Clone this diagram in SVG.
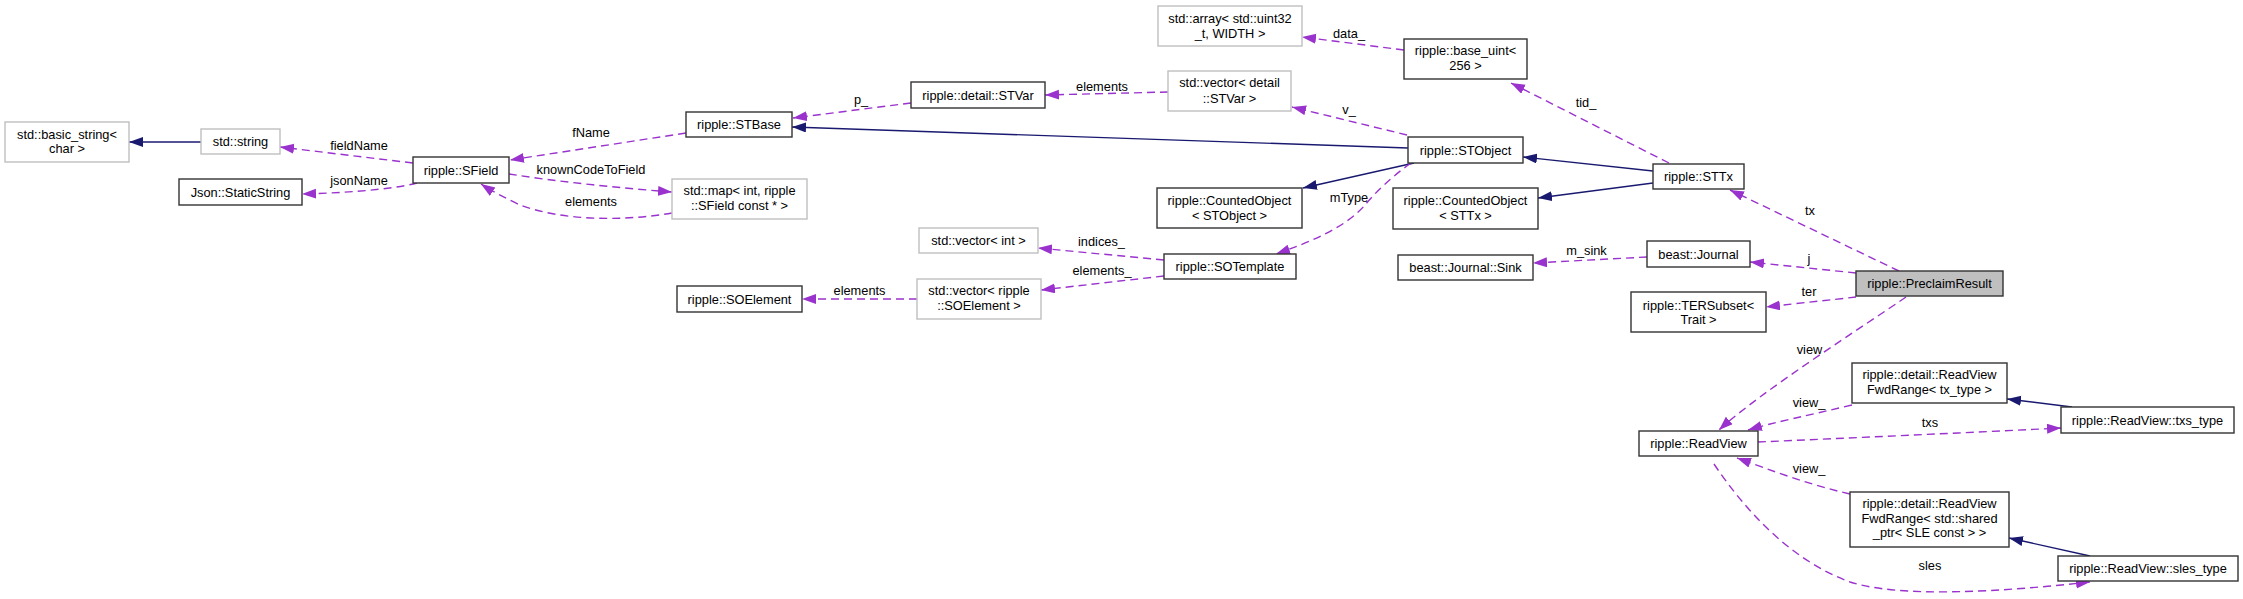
<svg xmlns="http://www.w3.org/2000/svg" width="2243" height="599" viewBox="0 0 2243 599">
<style>
.n rect{fill:#fff;stroke:#333;stroke-width:1.4}
.n.g rect{stroke:#bfbfbf}
.n.h rect{fill:#bfbfbf}
text{font-family:"Liberation Sans",Arial,sans-serif;font-size:12.8px;fill:#000;text-anchor:middle}
.u{fill:none;stroke:#9a32cd;stroke-width:1.4;stroke-dasharray:8,5;marker-end:url(#ap)}
.i{fill:none;stroke:#191970;stroke-width:1.4;marker-end:url(#an)}
</style>
<defs>
<marker id="ap" markerUnits="userSpaceOnUse" markerWidth="15" markerHeight="11" refX="14" refY="5" orient="auto"><path d="M0,0 L14,5 L0,10 z" fill="#9a32cd"/></marker>
<marker id="an" markerUnits="userSpaceOnUse" markerWidth="15" markerHeight="11" refX="14" refY="5" orient="auto"><path d="M0,0 L14,5 L0,10 z" fill="#191970"/></marker>
</defs>
<rect width="2243" height="599" fill="#fff"/>
<g id="connectors">
<path class="i" d="M201,142 L129,142"/>
<path class="i" d="M1408,148 L792,127"/>
<path class="i" d="M1414,163 L1303,188"/>
<path class="i" d="M1653,171 L1523,157"/>
<path class="i" d="M1653,183 L1538,198"/>
<path class="i" d="M2072,407 L2007,399"/>
<path class="i" d="M2090,556 L2009,538"/>
<path class="u" d="M413,163 L280,147"/>
<path class="u" d="M417,183 C390,190 340,193 302,194"/>
<path class="u" d="M509,174 C560,182 620,188 672,192"/>
<path class="u" d="M672,213 C620,222 560,220 520,205 C505,198 490,190 481,184"/>
<path class="u" d="M686,133 L510,160"/>
<path class="u" d="M911,103 L793,118"/>
<path class="u" d="M1168,92 L1045,95"/>
<path class="u" d="M1407,135 L1292,107"/>
<path class="u" d="M1404,50 L1302,37"/>
<path class="u" d="M1669,163 L1511,83"/>
<path class="u" d="M1411,163 C1390,178 1375,193 1365,205 C1345,228 1310,242 1276,254"/>
<path class="u" d="M1164,260 L1038,248"/>
<path class="u" d="M1164,276 L1041,290"/>
<path class="u" d="M917,299 L802,299"/>
<path class="u" d="M1899,271 L1730,190"/>
<path class="u" d="M1856,273 L1750,262"/>
<path class="u" d="M1856,297 C1830,300 1800,303 1766,307"/>
<path class="u" d="M1647,257 L1533,263"/>
<path class="u" d="M1906,297 C1870,322 1760,392 1719,430"/>
<path class="u" d="M1852,405 C1810,415 1775,422 1748,430"/>
<path class="u" d="M1758,442 C1850,438 1960,433 2061,428"/>
<path class="u" d="M1850,494 C1810,485 1770,470 1737,458"/>
<path class="u" d="M1714,464 C1745,510 1790,560 1850,582 C1900,598 2000,592 2090,582"/>
<text x="359" y="150">fieldName</text>
<text x="359" y="185">jsonName</text>
<text x="591" y="173.5">knownCodeToField</text>
<text x="591" y="206">elements</text>
<text x="591" y="137">fName</text>
<text x="861" y="104">p_</text>
<text x="1102" y="90.5">elements</text>
<text x="1349" y="114">v_</text>
<text x="1349" y="38">data_</text>
<text x="1586" y="107">tid_</text>
<text x="1349" y="201.5">mType</text>
<text x="1101.5" y="246">indices_</text>
<text x="1102" y="275">elements_</text>
<text x="859.5" y="295">elements</text>
<text x="1810" y="215">tx</text>
<text x="1809" y="262.5">j</text>
<text x="1809" y="296">ter</text>
<text x="1586.5" y="255">m_sink</text>
<text x="1809.5" y="354">view</text>
<text x="1809" y="407">view_</text>
<text x="1930" y="427">txs</text>
<text x="1809" y="473">view_</text>
<text x="1930" y="570">sles</text>
</g>
<g id="basic_string" class="n g"><rect x="5" y="122" width="124" height="40"/><text x="67" y="138.5">std::basic_string&lt;</text><text x="67" y="152.5">char &gt;</text></g>
<g id="std_string" class="n g"><rect x="201" y="129" width="79" height="25"/><text x="240.5" y="146">std::string</text></g>
<g id="json_staticstring" class="n"><rect x="179" y="179" width="123" height="26"/><text x="240.5" y="196.5">Json::StaticString</text></g>
<g id="sfield" class="n"><rect x="413" y="157" width="96" height="26"/><text x="461" y="174.5">ripple::SField</text></g>
<g id="std_map" class="n g"><rect x="672" y="179" width="135" height="40"/><text x="739.5" y="195">std::map&lt; int, ripple</text><text x="739.5" y="210">::SField const * &gt;</text></g>
<g id="soelement" class="n"><rect x="677" y="286" width="125" height="26"/><text x="739.5" y="303.5">ripple::SOElement</text></g>
<g id="stbase" class="n"><rect x="686" y="112" width="106" height="25"/><text x="739" y="129">ripple::STBase</text></g>
<g id="stvar" class="n"><rect x="911" y="82" width="134" height="26"/><text x="978" y="99.5">ripple::detail::STVar</text></g>
<g id="vector_int" class="n g"><rect x="919" y="228" width="119" height="25"/><text x="978.5" y="245">std::vector&lt; int &gt;</text></g>
<g id="vector_soelement" class="n g"><rect x="917" y="279" width="124" height="40"/><text x="979" y="295">std::vector&lt; ripple</text><text x="979" y="310">::SOElement &gt;</text></g>
<g id="std_array" class="n g"><rect x="1158" y="6" width="144" height="40"/><text x="1230" y="23">std::array&lt; std::uint32</text><text x="1230" y="38">_t, WIDTH &gt;</text></g>
<g id="vector_stvar" class="n g"><rect x="1168" y="71" width="123" height="40"/><text x="1229.5" y="87">std::vector&lt; detail</text><text x="1229.5" y="103">::STVar &gt;</text></g>
<g id="counted_stobject" class="n"><rect x="1157" y="188" width="145" height="40"/><text x="1229.5" y="205">ripple::CountedObject</text><text x="1229.5" y="219.5">&lt; STObject &gt;</text></g>
<g id="sotemplate" class="n"><rect x="1164" y="254" width="132" height="25"/><text x="1230" y="271">ripple::SOTemplate</text></g>
<g id="base_uint" class="n"><rect x="1404" y="39" width="123" height="40"/><text x="1465.5" y="55">ripple::base_uint&lt;</text><text x="1465.5" y="70">256 &gt;</text></g>
<g id="stobject" class="n"><rect x="1408" y="137" width="115" height="26"/><text x="1465.5" y="154.5">ripple::STObject</text></g>
<g id="counted_sttx" class="n"><rect x="1393" y="188" width="145" height="41"/><text x="1465.5" y="205">ripple::CountedObject</text><text x="1465.5" y="219.5">&lt; STTx &gt;</text></g>
<g id="journal_sink" class="n"><rect x="1398" y="255" width="135" height="25"/><text x="1465.5" y="272">beast::Journal::Sink</text></g>
<g id="sttx" class="n"><rect x="1653" y="164" width="91" height="25"/><text x="1698.5" y="181">ripple::STTx</text></g>
<g id="journal" class="n"><rect x="1647" y="241" width="103" height="26"/><text x="1698.5" y="258.5">beast::Journal</text></g>
<g id="tersubset" class="n"><rect x="1631" y="292" width="135" height="40"/><text x="1698.5" y="310">ripple::TERSubset&lt;</text><text x="1698.5" y="323.5">Trait &gt;</text></g>
<g id="preclaimresult" class="n h"><rect x="1856" y="271" width="147" height="25"/><text x="1929.5" y="288">ripple::PreclaimResult</text></g>
<g id="readview" class="n"><rect x="1639" y="431" width="119" height="25"/><text x="1698.5" y="448">ripple::ReadView</text></g>
<g id="fwdrange_tx" class="n"><rect x="1852" y="363" width="155" height="40"/><text x="1929.5" y="379">ripple::detail::ReadView</text><text x="1929.5" y="394">FwdRange&lt; tx_type &gt;</text></g>
<g id="txs_type" class="n"><rect x="2061" y="407" width="173" height="26"/><text x="2147.5" y="424.5">ripple::ReadView::txs_type</text></g>
<g id="fwdrange_sle" class="n"><rect x="1850" y="492" width="159" height="55"/><text x="1929.5" y="508">ripple::detail::ReadView</text><text x="1929.5" y="523">FwdRange&lt; std::shared</text><text x="1929.5" y="537">_ptr&lt; SLE const &gt; &gt;</text></g>
<g id="sles_type" class="n"><rect x="2058" y="556" width="180" height="25"/><text x="2148" y="573">ripple::ReadView::sles_type</text></g>
</svg>
